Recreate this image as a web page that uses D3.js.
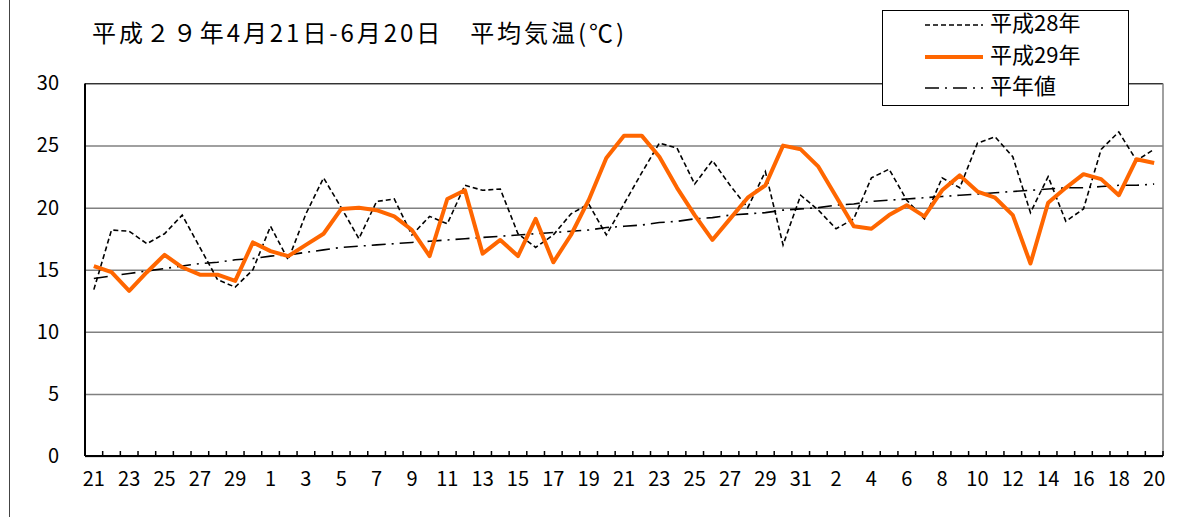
<!DOCTYPE html>
<html>
<head>
<meta charset="utf-8">
<script src="https://cdn.jsdelivr.net/npm/d3@7"></script>
<style>
  body { margin: 0; background: #fff; }
  text { font-family: "Noto Sans CJK JP", "Noto Sans", sans-serif; fill: #000; }
</style>
</head>
<body>
<svg width="1184" height="517"></svg>
<script>
// day labels, 4/21 .. 6/20
var days = ["21","22","23","24","25","26","27","28","29","30",
  "1","2","3","4","5","6","7","8","9","10","11","12","13","14","15","16","17","18","19","20",
  "21","22","23","24","25","26","27","28","29","30","31",
  "1","2","3","4","5","6","7","8","9","10","11","12","13","14","15","16","17","18","19","20"];

// 平成28年 (dashed)
var h28 = [13.4,18.2,18.1,17.1,17.9,19.4,16.8,14.2,13.6,15.0,
  18.5,15.8,19.5,22.4,20.0,17.5,20.5,20.7,17.8,19.3,
  18.7,21.8,21.4,21.5,17.9,16.8,17.8,19.5,20.3,17.8,
  20.3,22.8,25.2,24.8,21.9,23.8,21.8,20.0,22.9,17.0,
  21.0,19.8,18.3,19.1,22.4,23.1,20.6,19.1,22.4,21.6,
  25.2,25.7,24.1,19.6,22.5,18.9,19.9,24.7,26.1,23.8,24.7];

// 平成29年 (orange)
var h29 = [15.3,14.8,13.3,14.8,16.2,15.2,14.6,14.6,14.1,17.2,
  16.5,16.1,17.0,17.9,19.9,20.0,19.8,19.3,18.2,16.1,
  20.7,21.4,16.3,17.4,16.1,19.1,15.6,17.8,20.6,24.0,
  25.8,25.8,24.1,21.6,19.4,17.4,19.1,20.8,21.8,25.0,
  24.7,23.3,20.9,18.5,18.3,19.4,20.2,19.3,21.4,22.6,
  21.3,20.8,19.4,15.5,20.4,21.6,22.7,22.3,21.0,23.9,23.6];

// 平年値 (dash-dot)
var normal = [14.3,14.5,14.7,14.9,15.1,15.3,15.5,15.6,15.8,15.9,
  16.1,16.2,16.4,16.6,16.8,16.9,17.0,17.1,17.2,17.3,
  17.4,17.5,17.6,17.7,17.8,17.9,18.0,18.1,18.2,18.4,
  18.5,18.6,18.8,18.9,19.1,19.2,19.4,19.5,19.6,19.8,
  19.9,20.0,20.2,20.3,20.5,20.6,20.7,20.8,20.9,21.0,
  21.1,21.2,21.3,21.4,21.5,21.6,21.6,21.7,21.8,21.8,21.9];

var yTicks = [0,5,10,15,20,25,30];
var title = "平成２９年4月21日-6月20日　平均気温(℃)";
var legendNames = ["平成28年","平成29年","平年値"];

var svg = d3.select("svg");
// note: "top" is taken by window.top, so use plot* names
var plotL = 85, plotR = 1163, plotT = 83.5, plotB = 456;

var x = d3.scaleBand().domain(d3.range(days.length)).range([plotL, plotR]);
var y = d3.scaleLinear().domain([0, 30]).range([plotB, plotT]);

// outer frame edge on the left
svg.append("line").attr("x1", 9.5).attr("x2", 9.5).attr("y1", 0).attr("y2", 517)
  .attr("stroke", "#444").attr("stroke-width", 1);

svg.append("text").attr("x", 92).attr("y", 35)
  .attr("dominant-baseline", "middle")
  .attr("textLength", 532).attr("lengthAdjust", "spacing")
  .style("font-size", "24px")
  .text(title);

// gridlines + y labels
var yAxis = svg.append("g").attr("transform", "translate(" + plotL + ",0)")
  .call(d3.axisLeft(y).tickValues(yTicks).tickSize(-(plotR - plotL)).tickPadding(26));
yAxis.select(".domain").remove();
yAxis.selectAll(".tick line").attr("stroke", "#808080").attr("stroke-width", 1.5);
yAxis.selectAll(".tick text").style("font-size", "20px").attr("fill", "#000");

// plot border
svg.append("line").attr("x1", plotL).attr("x2", plotR).attr("y1", plotT).attr("y2", plotT)
  .attr("stroke", "#333").attr("stroke-width", 1);
svg.append("line").attr("x1", plotR).attr("x2", plotR).attr("y1", plotT).attr("y2", plotB)
  .attr("stroke", "#808080").attr("stroke-width", 1.5);

// x axis, labels every other day
var xAxis = svg.append("g").attr("transform", "translate(0," + plotB + ")")
  .call(d3.axisBottom(x).tickValues(d3.range(0, days.length, 2))
    .tickFormat(function(i) { return days[i]; }).tickSize(0).tickPadding(16));
xAxis.select(".domain").remove();
xAxis.selectAll(".tick text").style("font-size", "20px").attr("fill", "#000");

// small inside ticks at category boundaries
var bounds = d3.range(days.length + 1).map(function(i) { return plotL + i * x.step(); });
svg.append("g").selectAll("line").data(bounds).enter().append("line")
  .attr("x1", function(d) { return d; }).attr("x2", function(d) { return d; })
  .attr("y1", plotB).attr("y2", plotB - 5)
  .attr("stroke", "#000").attr("stroke-width", 1.5);

svg.append("line").attr("x1", plotL).attr("x2", plotL).attr("y1", plotT).attr("y2", plotB)
  .attr("stroke", "#000").attr("stroke-width", 2);
svg.append("line").attr("x1", plotL).attr("x2", plotR).attr("y1", plotB).attr("y2", plotB)
  .attr("stroke", "#000").attr("stroke-width", 2);

var line = d3.line()
  .x(function(d, i) { return x(i) + x.bandwidth() / 2; })
  .y(function(d) { return y(d); });

svg.append("path").datum(normal).attr("d", line)
  .attr("fill", "none").attr("stroke", "#000").attr("stroke-width", 1.6)
  .attr("stroke-dasharray", "14,6,2,6");
svg.append("path").datum(h28).attr("d", line)
  .attr("fill", "none").attr("stroke", "#000").attr("stroke-width", 1.6)
  .attr("stroke-dasharray", "5,3");
svg.append("path").datum(h29).attr("d", line)
  .attr("fill", "none").attr("stroke", "#ff6600").attr("stroke-width", 4)
  .attr("stroke-linejoin", "round");

// legend
var lg = svg.append("g");
lg.append("rect").attr("x", 882.5).attr("y", 10.5).attr("width", 246).attr("height", 95)
  .attr("fill", "#fff").attr("stroke", "#000").attr("stroke-width", 1);
var styles = [
  { stroke: "#000", w: 1.6, dash: "5,3" },
  { stroke: "#ff6600", w: 4, dash: null },
  { stroke: "#000", w: 1.6, dash: "14,6,2,6" }
];
var rowY = [25, 57, 88];
legendNames.forEach(function(name, i) {
  lg.append("line").attr("x1", 925).attr("x2", 983).attr("y1", rowY[i]).attr("y2", rowY[i])
    .attr("stroke", styles[i].stroke).attr("stroke-width", styles[i].w)
    .attr("stroke-dasharray", styles[i].dash);
  lg.append("text").attr("x", 990).attr("y", rowY[i])
    .attr("dominant-baseline", "middle").style("font-size", "22px").text(name);
});
</script>
</body>
</html>
